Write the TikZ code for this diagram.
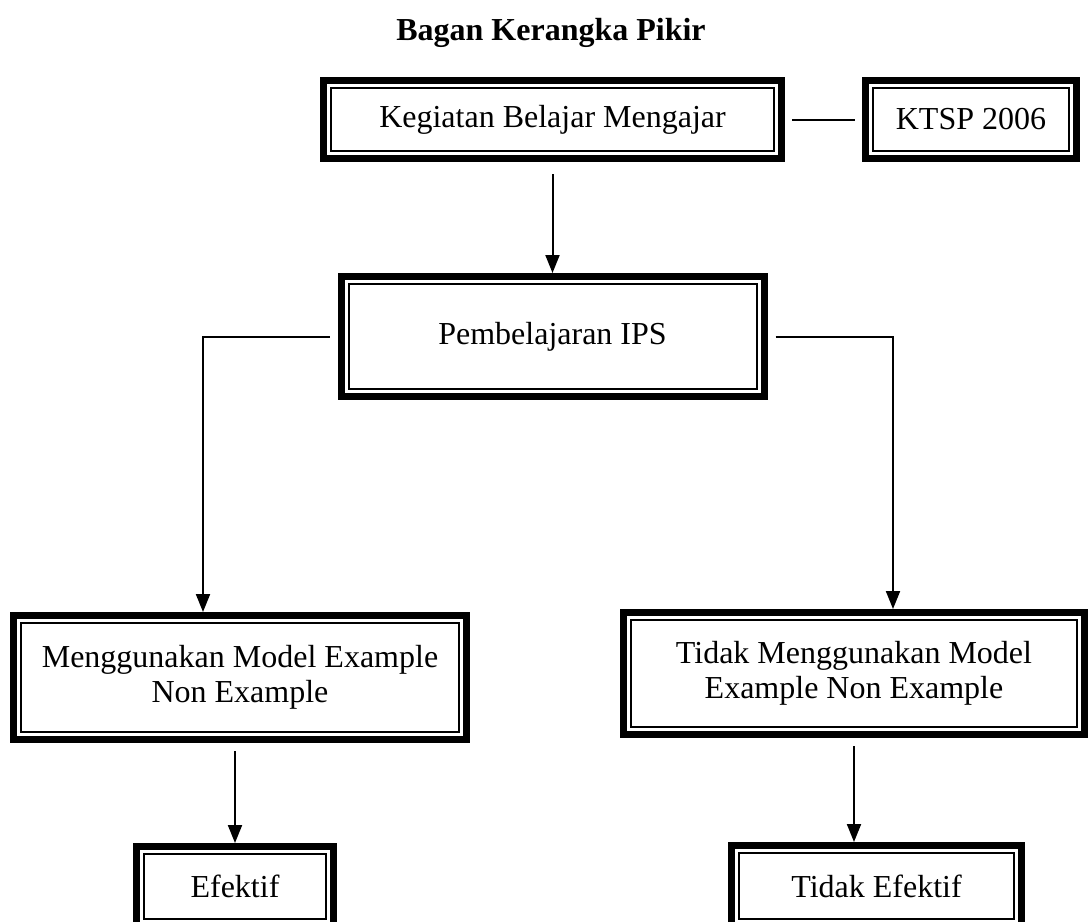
\documentclass[tikz,border=0pt]{standalone}
\usepackage{fontspec}
\setmainfont{Liberation Serif}
\usetikzlibrary{arrows.meta,calc}

\tikzset{
  bx/.style={draw, line width=7pt, align=center, font=\fontsize{32}{35}\selectfont},
  arr/.style={line width=2pt, -{Triangle[length=18pt,width=14pt]}},
  ln/.style={line width=2pt},
}

\begin{document}
\begin{tikzpicture}[x=1pt,y=-1pt]
\useasboundingbox (0,0) rectangle (1089,921);

\node[font=\bfseries\fontsize{32}{35}\selectfont] (title) at (551,33) {Bagan Kerangka Pikir};

\node[bx, minimum width=458pt, minimum height=78pt] (keg) at (552.5,119.5) {Kegiatan Belajar Mengajar};
\node[bx, minimum width=211pt, minimum height=78pt] (ktsp) at (971,119.5) {KTSP 2006};
\node[bx, minimum width=423pt, minimum height=120pt] (ips) at (552.5,336.5) {Pembelajaran IPS};
\node[bx, minimum width=453pt, minimum height=124pt] (menl) at (240,677.5) {Menggunakan Model Example\\Non Example};
\node[bx, minimum width=461pt, minimum height=122pt] (tdk) at (854,673.5) {Tidak Menggunakan Model\\Example Non Example};
\node[bx, minimum width=197pt, minimum height=80pt] (efk) at (235,886.5) {Efektif};
\node[bx, minimum width=290pt, minimum height=81pt] (tef) at (876.5,886) {Tidak Efektif};

\foreach \n in {keg,ktsp,ips,menl,tdk,efk,tef}
  \draw[ln] ($(\n.south west)+(11pt,11pt)$) rectangle ($(\n.north east)+(-11pt,-11pt)$);

\draw[ln, shorten <=7pt, shorten >=7pt] (keg.east) -- (ktsp.west);
\draw[arr, shorten <=12pt] (keg.south) -- (ips.north);
\draw[arr, shorten <=8pt] (ips.west) -| ([xshift=-37pt]menl.north);
\draw[arr, shorten <=8pt] (ips.east) -| ([xshift=39pt]tdk.north);
\draw[arr, shorten <=8pt] (menl.south -| efk.north) -- (efk.north);
\draw[arr, shorten <=8pt] (tdk.south) -- (tdk.south |- tef.north);

\end{tikzpicture}
\end{document}
